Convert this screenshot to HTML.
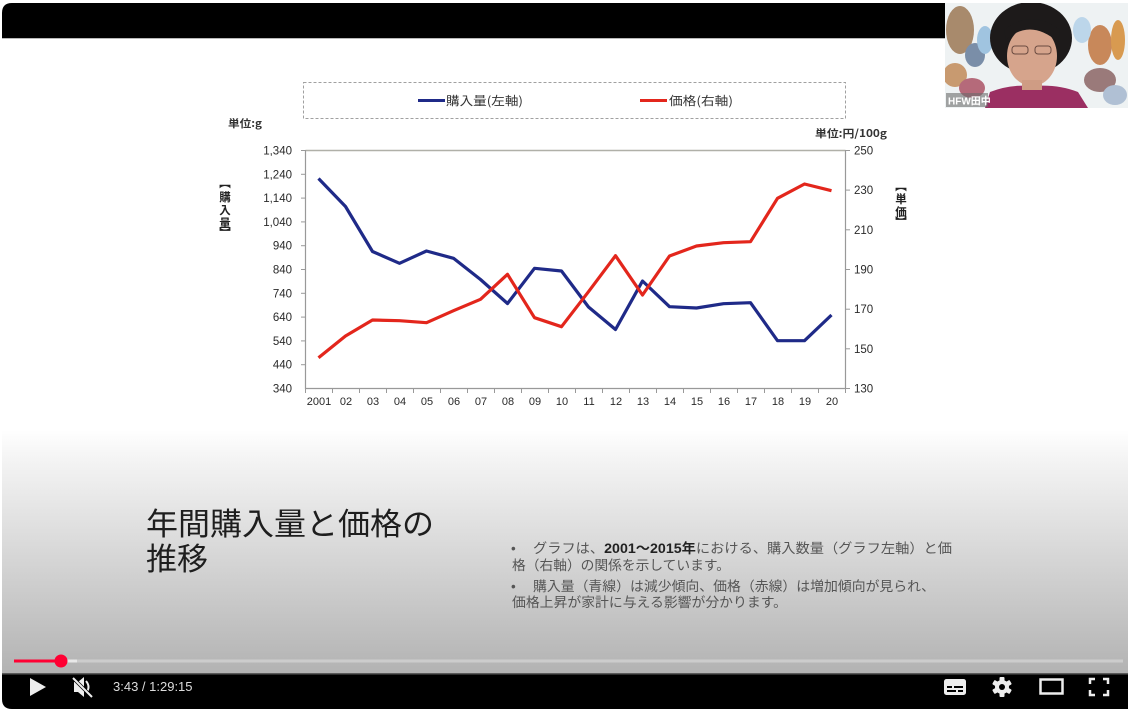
<!DOCTYPE html>
<html><head><meta charset="utf-8"><style>
html,body{margin:0;padding:0;background:#fff;width:1130px;height:709px;overflow:hidden}
svg{display:block}
</style></head><body>
<svg width="1130" height="709" viewBox="0 0 1130 709" xmlns="http://www.w3.org/2000/svg">
<defs>
<linearGradient id="bg" x1="0" y1="0" x2="0" y2="1">
<stop offset="0" stop-color="#ffffff"/>
<stop offset="0.12" stop-color="#f4f4f4"/>
<stop offset="1" stop-color="#b2b2b2"/>
</linearGradient>
<clipPath id="cam"><rect x="945" y="3" width="183" height="105"/></clipPath>
</defs>
<!-- player background -->
<rect x="2" y="3" width="1126" height="706" rx="10" fill="#fff"/>
<rect x="2" y="430" width="1126" height="245" fill="url(#bg)"/>
<!-- top black bar -->
<path d="M2 38 L2 13 Q2 3 12 3 L1128 3 L1128 38 Z" fill="#000"/>
<rect x="2" y="38" width="1126" height="1" fill="#b8b8b8"/>

<!-- legend box -->
<rect x="303.5" y="82.5" width="542" height="36" fill="none" stroke="#a0a0a0" stroke-width="1" stroke-dasharray="3,2"/>
<line x1="418" y1="100.5" x2="445" y2="100.5" stroke="#1f2a88" stroke-width="3"/>
<text x="446" y="105" font-family="'Noto Sans CJK JP',sans-serif" font-size="12" fill="#333" textLength="77" lengthAdjust="spacingAndGlyphs">購入量(左軸)</text>
<line x1="640" y1="100.5" x2="667" y2="100.5" stroke="#e3261c" stroke-width="3"/>
<text x="669" y="105" font-family="'Noto Sans CJK JP',sans-serif" font-size="12" fill="#333" textLength="64" lengthAdjust="spacingAndGlyphs">価格(右軸)</text>

<text x="228" y="127" font-family="'Noto Sans CJK JP',sans-serif" font-size="10.5" font-weight="bold" fill="#333" textLength="34" lengthAdjust="spacingAndGlyphs">単位:g</text>
<text x="815" y="137" font-family="'Noto Sans CJK JP',sans-serif" font-size="10.5" font-weight="bold" fill="#333" textLength="72" lengthAdjust="spacingAndGlyphs">単位:円/100g</text>

<!-- vertical axis titles -->
<g font-family="'Noto Sans CJK JP',sans-serif" font-size="11.5" font-weight="bold" fill="#222" text-anchor="middle">
<text x="225" y="187">︻</text>
<text x="225" y="201">購</text>
<text x="225" y="214">入</text>
<text x="225" y="227">量</text>
<text x="225" y="237">︼</text>
<text x="901" y="190">︻</text>
<text x="901" y="203">単</text>
<text x="901" y="216">価</text>
<text x="901" y="226">︼</text>
</g>

<!-- plot frame -->
<line x1="305.5" y1="150.5" x2="845.5" y2="150.5" stroke="#b0b0a8" stroke-width="1.5"/>
<line x1="305.5" y1="150" x2="305.5" y2="389" stroke="#999" stroke-width="1.2"/>
<line x1="845.5" y1="150" x2="845.5" y2="389" stroke="#999" stroke-width="1.2"/>
<line x1="305" y1="388.5" x2="846" y2="388.5" stroke="#999" stroke-width="1.2"/>
<g stroke="#999" stroke-width="1">
<line x1="301" y1="150.5" x2="305" y2="150.5"/><line x1="301" y1="174.3" x2="305" y2="174.3"/><line x1="301" y1="198.1" x2="305" y2="198.1"/><line x1="301" y1="221.9" x2="305" y2="221.9"/><line x1="301" y1="245.7" x2="305" y2="245.7"/><line x1="301" y1="269.5" x2="305" y2="269.5"/><line x1="301" y1="293.3" x2="305" y2="293.3"/><line x1="301" y1="317.1" x2="305" y2="317.1"/><line x1="301" y1="340.9" x2="305" y2="340.9"/><line x1="301" y1="364.7" x2="305" y2="364.7"/>
<line x1="846" y1="150.5" x2="850" y2="150.5"/><line x1="846" y1="190.1" x2="850" y2="190.1"/><line x1="846" y1="229.8" x2="850" y2="229.8"/><line x1="846" y1="269.5" x2="850" y2="269.5"/><line x1="846" y1="309.2" x2="850" y2="309.2"/><line x1="846" y1="348.8" x2="850" y2="348.8"/><line x1="846" y1="388.5" x2="850" y2="388.5"/>
<line x1="305.5" y1="389" x2="305.5" y2="393"/><line x1="332.5" y1="389" x2="332.5" y2="393"/><line x1="359.5" y1="389" x2="359.5" y2="393"/><line x1="386.5" y1="389" x2="386.5" y2="393"/><line x1="413.5" y1="389" x2="413.5" y2="393"/><line x1="440.5" y1="389" x2="440.5" y2="393"/><line x1="467.5" y1="389" x2="467.5" y2="393"/><line x1="494.5" y1="389" x2="494.5" y2="393"/><line x1="521.5" y1="389" x2="521.5" y2="393"/><line x1="548.5" y1="389" x2="548.5" y2="393"/><line x1="575.5" y1="389" x2="575.5" y2="393"/><line x1="602.5" y1="389" x2="602.5" y2="393"/><line x1="629.5" y1="389" x2="629.5" y2="393"/><line x1="656.5" y1="389" x2="656.5" y2="393"/><line x1="683.5" y1="389" x2="683.5" y2="393"/><line x1="710.5" y1="389" x2="710.5" y2="393"/><line x1="737.5" y1="389" x2="737.5" y2="393"/><line x1="764.5" y1="389" x2="764.5" y2="393"/><line x1="791.5" y1="389" x2="791.5" y2="393"/><line x1="818.5" y1="389" x2="818.5" y2="393"/><line x1="845.5" y1="389" x2="845.5" y2="393"/>
</g>

<!-- left tick labels -->
<g font-family="'Liberation Sans',sans-serif" font-size="11.5" fill="#2a2a2a" text-anchor="end">
<text x="292" y="154.5">1,340</text><text x="292" y="178.3">1,240</text><text x="292" y="202.1">1,140</text><text x="292" y="225.9">1,040</text><text x="292" y="249.7">940</text><text x="292" y="273.5">840</text><text x="292" y="297.3">740</text><text x="292" y="321.1">640</text><text x="292" y="344.9">540</text><text x="292" y="368.7">440</text><text x="292" y="392.5">340</text>
</g>
<!-- right tick labels -->
<g font-family="'Liberation Sans',sans-serif" font-size="11.5" fill="#2a2a2a">
<text x="854" y="154.5">250</text><text x="854" y="194.1">230</text><text x="854" y="233.8">210</text><text x="854" y="273.5">190</text><text x="854" y="313.2">170</text><text x="854" y="352.8">150</text><text x="854" y="392.5">130</text>
</g>
<!-- x labels -->
<g font-family="'Liberation Sans',sans-serif" font-size="11" fill="#2a2a2a" text-anchor="middle">
<text x="319" y="405">2001</text><text x="346" y="405">02</text><text x="373" y="405">03</text><text x="400" y="405">04</text><text x="427" y="405">05</text><text x="454" y="405">06</text><text x="481" y="405">07</text><text x="508" y="405">08</text><text x="535" y="405">09</text><text x="562" y="405">10</text><text x="589" y="405">11</text><text x="616" y="405">12</text><text x="643" y="405">13</text><text x="670" y="405">14</text><text x="697" y="405">15</text><text x="724" y="405">16</text><text x="751" y="405">17</text><text x="778" y="405">18</text><text x="805" y="405">19</text><text x="832" y="405">20</text>
</g>

<!-- series -->
<polyline fill="none" stroke="#1f2a88" stroke-width="3.2" stroke-linejoin="round" points="318.5,178.5 345.5,206.5 372.5,251.5 399.5,263.3 426.5,251 453.5,258.3 480.5,279.5 507.5,303.5 534.5,268.3 561.5,271 588.5,307 615.5,329.5 642.5,281 669.5,306.7 696.5,308 723.5,303.7 750.5,302.7 777.5,340.7 804.5,340.7 831.5,315"/>
<polyline fill="none" stroke="#e3261c" stroke-width="3.2" stroke-linejoin="round" points="318.5,357.7 345.5,336 372.5,320 399.5,320.7 426.5,322.7 453.5,310.7 480.5,299.3 507.5,274.3 534.5,317.7 561.5,326.7 588.5,291.7 615.5,255.7 642.5,295 669.5,256 696.5,246 723.5,242.7 750.5,241.7 777.5,198.3 804.5,184 831.5,190.7"/>

<!-- title -->
<g font-family="'Noto Sans CJK JP',sans-serif" font-size="31" fill="#1e1e1e">
<text x="146" y="535" textLength="288" lengthAdjust="spacingAndGlyphs">年間購入量と価格の</text>
<text x="146" y="570">推移</text>
</g>
<!-- bullets -->
<g font-family="'Liberation Sans','Noto Sans CJK JP',sans-serif" font-size="13.5" fill="#555">
<text x="511" y="553">•</text>
<text x="533" y="553" textLength="419" lengthAdjust="spacingAndGlyphs">グラフは、<tspan font-weight="bold" fill="#222">2001～2015年</tspan>における、購入数量（グラフ左軸）と価</text>
<text x="512" y="570" textLength="218" lengthAdjust="spacingAndGlyphs">格（右軸）の関係を示しています。</text>
<text x="511" y="591">•</text>
<text x="533" y="591" textLength="402" lengthAdjust="spacingAndGlyphs">購入量（青線）は減少傾向、価格（赤線）は増加傾向が見られ、</text>
<text x="512" y="607" textLength="275" lengthAdjust="spacingAndGlyphs">価格上昇が家計に与える影響が分かります。</text>
</g>

<!-- webcam -->
<g clip-path="url(#cam)">
<rect x="945" y="3" width="183" height="105" fill="#eef2f3"/>
<ellipse cx="960" cy="30" rx="14" ry="24" fill="#a88a6c"/>
<ellipse cx="975" cy="55" rx="10" ry="12" fill="#7a8ea8"/>
<ellipse cx="955" cy="75" rx="12" ry="12" fill="#c89a70"/>
<ellipse cx="972" cy="88" rx="13" ry="10" fill="#b56a7a"/>
<ellipse cx="985" cy="40" rx="8" ry="14" fill="#a0c4e0"/>
<ellipse cx="1100" cy="45" rx="12" ry="20" fill="#c8885a"/>
<ellipse cx="1118" cy="40" rx="7" ry="20" fill="#d89a50"/>
<ellipse cx="1100" cy="80" rx="16" ry="12" fill="#9a7a7a"/>
<ellipse cx="1115" cy="95" rx="12" ry="10" fill="#b0c0d4"/>
<ellipse cx="1082" cy="30" rx="9" ry="13" fill="#bcd6ea"/>
<path d="M985 108 L990 92 Q1010 84 1033 86 Q1058 84 1078 92 L1088 108 Z" fill="#9b2f62"/>
<ellipse cx="1031" cy="38" rx="41" ry="36" fill="#1d1a1a"/>
<ellipse cx="1032" cy="56" rx="25" ry="30" fill="#d6a48c"/>
<rect x="1022" y="80" width="20" height="10" fill="#cf9c84"/>
<path d="M1006 40 Q1030 18 1058 42 L1060 30 Q1032 8 1004 30 Z" fill="#1d1a1a"/>
<rect x="1012" y="46" width="16" height="8" rx="3" fill="none" stroke="#6a4a40" stroke-width="1"/>
<rect x="1035" y="46" width="16" height="8" rx="3" fill="none" stroke="#6a4a40" stroke-width="1"/>
<rect x="946" y="93" width="42" height="14" fill="#6a6a6a" opacity="0.6"/>
<text x="948" y="104.5" font-family="'Liberation Sans','Noto Sans CJK JP',sans-serif" font-size="10" font-weight="bold" fill="#fff">HFW田中</text>
</g>

<!-- progress bar -->
<rect x="60" y="659.5" width="1063" height="3" fill="#d2d2d2" opacity="0.8"/>
<rect x="60" y="659.5" width="17" height="3" fill="#e8e8e8"/>
<rect x="14" y="659.5" width="47" height="3" fill="#ff0033"/>
<circle cx="61" cy="661" r="6.5" fill="#ff0033"/>

<!-- controls bar -->
<rect x="2" y="673" width="1126" height="1.5" fill="#5a5a5a"/>
<path d="M2 674.5 L1128 674.5 L1128 709 L12 709 Q2 709 2 699 Z" fill="#000"/>
<path d="M30 678 L30 696 L46 687 Z" fill="#eee"/>
<g fill="#eee">
<path d="M74 682 L78 682 L84 677 L84 697 L78 692 L74 692 Z"/>
<path d="M86 681 Q91 687 86 693" fill="none" stroke="#eee" stroke-width="2"/>
</g>
<line x1="73" y1="678" x2="92" y2="697" stroke="#000" stroke-width="3.5"/>
<line x1="73" y1="678" x2="92" y2="697" stroke="#eee" stroke-width="2"/>
<text x="113" y="691" font-family="'Liberation Sans',sans-serif" font-size="13" fill="#ddd">3:43 / 1:29:15</text>
<rect x="944" y="679" width="22" height="16" rx="2.5" fill="#eee"/>
<rect x="947" y="686" width="5" height="2" fill="#000"/><rect x="954" y="686" width="9" height="2" fill="#000"/>
<rect x="947" y="690" width="9" height="2" fill="#000"/><rect x="958" y="690" width="5" height="2" fill="#000"/>
<g transform="translate(1002,687)" fill="#eee">
<circle r="7"/>
<rect x="-2.5" y="-10" width="5" height="20" rx="1"/>
<rect x="-2.5" y="-10" width="5" height="20" rx="1" transform="rotate(60)"/>
<rect x="-2.5" y="-10" width="5" height="20" rx="1" transform="rotate(120)"/>
<circle r="3" fill="#000"/>
</g>
<rect x="1040.5" y="679.5" width="22" height="14" fill="none" stroke="#eee" stroke-width="2.5"/>
<g fill="none" stroke="#eee" stroke-width="2.5">
<path d="M1090 684 L1090 679 L1095 679"/>
<path d="M1103 679 L1108 679 L1108 684"/>
<path d="M1090 690 L1090 695 L1095 695"/>
<path d="M1103 695 L1108 695 L1108 690"/>
</g>
</svg>
</body></html>
